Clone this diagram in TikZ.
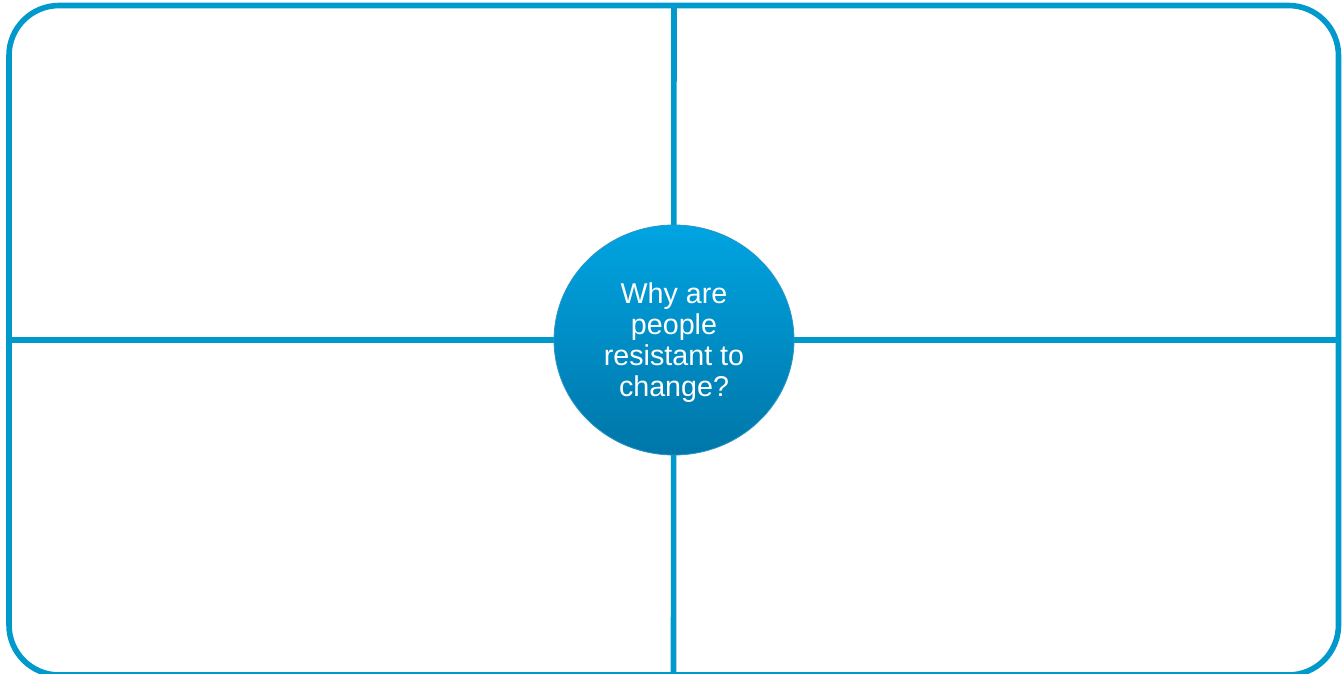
\documentclass[tikz,border=0pt]{standalone}
\usepackage{fontspec}
\setmainfont{Liberation Sans}
\usetikzlibrary{shapes.geometric}
\definecolor{frameblue}{RGB}{0,153,204}
\definecolor{hubtop}{RGB}{0,164,226}
\definecolor{hubbottom}{RGB}{0,118,168}
\definecolor{hubedge}{RGB}{40,150,200}
\tikzset{
  frame/.style={draw=frameblue, line width=4.2pt},
  divider/.style={draw=frameblue, line width=4.2pt},
  hub/.style={ellipse, minimum width=180pt, minimum height=172.5pt, inner sep=0pt,
    top color=hubtop, bottom color=hubbottom, draw=hubedge, line width=0.6pt},
  hubtext/.style={text=white, align=center, inner sep=0pt,
    font=\fontsize{21.5}{23.2}\selectfont}
}
\begin{document}
\begin{tikzpicture}[x=0.75pt, y=-0.75pt]
  \useasboundingbox (0,0) rectangle (1343,674);
  \clip (0,0) rectangle (1343,674);
  % outer rounded frame
  \draw[frame, rounded corners=37.5pt] (9,5.5) rectangle (1338.5,675);
  % quadrant dividers
  \coordinate (top) at (674,5.5);
  \coordinate (bottom) at (673.5,675);
  \coordinate (left) at (9,340);
  \coordinate (right) at (1338.5,340);
  \draw[divider] (top) -- (bottom);
  \draw[divider] (left) -- (right);
  % central question
  \node[hub] (q) at (674,340) {};
  \node[hubtext] (qtext) at (674,342.5) {Why are\\people\\resistant to\\change?};
\end{tikzpicture}
\end{document}
